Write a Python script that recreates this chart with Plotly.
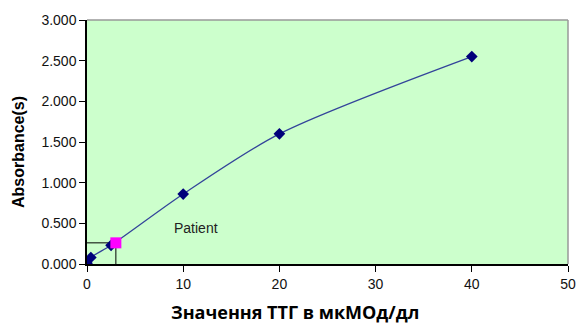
import plotly.graph_objects as go

conc = [0, 0.4, 2.5, 10, 20, 40]
absorb = [0.01, 0.08, 0.23, 0.86, 1.60, 2.55]
patient_x = [3.0]
patient_y = [0.26]
x_ticks = [0, 10, 20, 30, 40, 50]
y_ticks = [0, 0.5, 1.0, 1.5, 2.0, 2.5, 3.0]
x_title = "Значення ТТГ в мкМОд/дл"
y_title = "Absorbance(s)"

fig = go.Figure()
# patient reference lines
fig.add_trace(go.Scatter(x=[0, patient_x[0], patient_x[0]], y=[patient_y[0], patient_y[0], 0],
                         mode="lines", line=dict(color="black", width=1), showlegend=False, hoverinfo="skip"))
fig.add_trace(go.Scatter(x=conc, y=absorb, mode="lines+markers",
                         line=dict(color="#33449a", width=1.3, shape="spline", smoothing=0.8),
                         marker=dict(symbol="diamond", size=9, color="#00007a"),
                         showlegend=False))
fig.add_trace(go.Scatter(x=patient_x, y=patient_y, mode="markers",
                         marker=dict(symbol="square", size=11, color="#ff00ff"), showlegend=False))

fig.add_annotation(x=11.3, y=0.44, text="Patient", showarrow=False,
                   font=dict(family="Liberation Sans, Arial", size=14, color="#222"))
fig.add_annotation(xref="paper", yref="paper", x=0.432, y=-0.197, text="<b>" + x_title + "</b>",
                   showarrow=False, xanchor="center", yanchor="middle",
                   font=dict(family="Open Sans", size=18, color="black"))
fig.add_annotation(xref="paper", yref="paper", x=-0.1435, y=0.459, text="<b>" + y_title + "</b>",
                   showarrow=False, textangle=-90, xanchor="center", yanchor="middle",
                   font=dict(family="Liberation Sans, Arial", size=16, color="black"))

# grey top/right frame
fig.add_shape(type="line", xref="paper", yref="paper", x0=0, x1=1, y0=1, y1=1, line=dict(color="#999", width=1.5))
fig.add_shape(type="line", xref="paper", yref="paper", x0=1, x1=1, y0=0, y1=1, line=dict(color="#999", width=1.5))

fig.update_layout(
    width=579, height=325,
    margin=dict(l=87, r=11, t=20, b=61),
    paper_bgcolor="white", plot_bgcolor="#ccffcc",
    font=dict(family="Liberation Sans, Arial", size=14, color="#111"),
    xaxis=dict(range=[0, 50], tickvals=x_ticks, showgrid=False, zeroline=False, automargin=False,
               showline=True, linecolor="black", linewidth=1.5, ticks="outside", ticklen=6,
               tickcolor="black"),
    yaxis=dict(range=[0, 3.0], tickvals=y_ticks, tickformat=".3f", showgrid=False, zeroline=False,
               automargin=False,
               showline=True, linecolor="black", linewidth=1.5, ticks="outside", ticklen=6,
               tickcolor="black"),
)
fig.write_html("out.html", config={"displayModeBar": False},
               post_script="document.body.style.margin='0';")
